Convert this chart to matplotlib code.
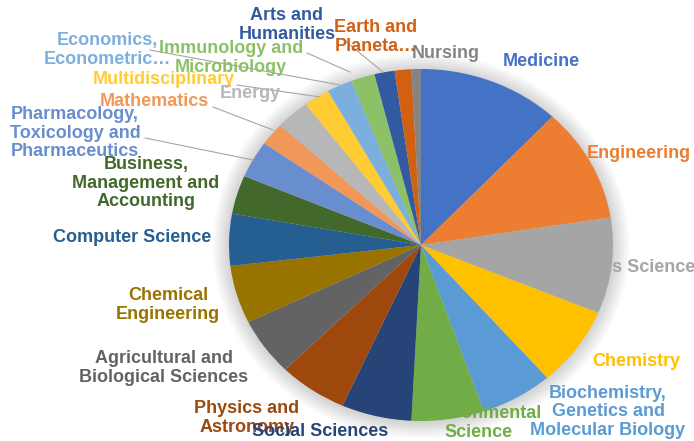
import matplotlib
matplotlib.use("Agg")
import matplotlib.pyplot as plt
from matplotlib.patches import Ellipse

categories = [
    "Medicine", "Engineering", "Materials Science", "Chemistry",
    "Biochemistry,\nGenetics and\nMolecular Biology", "Environmental\nScience",
    "Social Sciences", "Physics and\nAstronomy",
    "Agricultural and\nBiological Sciences", "Chemical\nEngineering",
    "Computer Science", "Business,\nManagement and\nAccounting",
    "Pharmacology,\nToxicology and\nPharmaceutics", "Mathematics", "Energy",
    "Multidisciplinary", "Economics,\nEconometric…", "Immunology and\nMicrobiology",
    "Arts and\nHumanities", "Earth and\nPlaneta…", "Nursing",
]
values = [12.0, 10.5, 8.8, 7.3, 6.1, 6.1, 5.9, 5.8, 5.3, 5.3, 4.75, 3.55,
          3.4, 2.1, 2.85, 2.2, 2.15, 2.0, 1.7, 1.4, 0.8]
colors = ["#4472C4", "#ED7D31", "#A5A5A5", "#FFC000", "#5B9BD5", "#70AD47",
          "#264478", "#9E480E", "#636363", "#997300", "#255E91", "#43682B",
          "#698ED0", "#F1975A", "#B7B7B7", "#FFCD33", "#7CAFDD", "#8CC168",
          "#335AA1", "#D26012", "#848484"]

W, H = 694, 441
fig = plt.figure(figsize=(W / 100, H / 100), dpi=100)
ax = fig.add_axes([0, 0, 1, 1])

# pie geometry in pixels
cx, cy, rx, ry = 421, 245, 192, 176

# soft shadow
for i in range(8):
    e = Ellipse((0, -0.005), 2 * (1 + 0.012 * i), 2 * (1 + 0.012 * i * rx / ry),
                facecolor="black", edgecolor="none", alpha=0.025, zorder=0.2)
    ax.add_patch(e)

wedges, _ = ax.pie(values, colors=colors, startangle=90, counterclock=False,
                   radius=1, center=(0, 0), wedgeprops=dict(linewidth=0))
ax.set_aspect("auto")
ax.set_xlim(-cx / rx, (W - cx) / rx)
ax.set_ylim(-(H - cy) / ry, cy / ry)
ax.axis("off")

# label positions (pixels, centre of text)
label_pos = {
    "Medicine": (541, 62),
    "Engineering": (639, 153),
    "Materials Science": (620, 268),
    "Chemistry": (636, 361),
    "Biochemistry,\nGenetics and\nMolecular Biology": (608, 412),
    "Environmental\nScience": (479, 423),
    "Social Sciences": (320, 431),
    "Physics and\nAstronomy": (247, 418),
    "Agricultural and\nBiological Sciences": (164, 368),
    "Chemical\nEngineering": (168, 305),
    "Computer Science": (132, 238),
    "Business,\nManagement and\nAccounting": (146, 183),
    "Pharmacology,\nToxicology and\nPharmaceutics": (75, 133),
    "Mathematics": (154, 101),
    "Energy": (250, 94),
    "Multidisciplinary": (164, 80),
    "Economics,\nEconometric…": (107, 50),
    "Immunology and\nMicrobiology": (231, 58),
    "Arts and\nHumanities": (287, 25),
    "Earth and\nPlaneta…": (376, 37),
    "Nursing": (446, 54),
}
behind = {"Materials Science", "Environmental\nScience"}

for i, (cat, col) in enumerate(zip(categories, colors)):
    px, py = label_pos[cat]
    z = 0.5 if cat in behind else 3 + (len(categories) - i) * 0.01
    fig.text(px / W, 1 - py / H, cat, color=col, fontsize=13, fontweight="bold",
             family=["Liberation Sans", "DejaVu Sans"], ha="center", va="center",
             multialignment="center", linespacing=1.1, zorder=z)

# leader lines (pixels)
leaders = [
    [(150, 50), (340, 85)],
    [(307, 53), (350, 72)],
    [(237, 85), (320, 97)],
    [(213, 107), (273, 130)],
    [(145, 138), (253, 160)],
    [(344, 40), (383, 72)],
]
for seg in leaders:
    xs = [p[0] / W for p in seg]
    ys = [1 - p[1] / H for p in seg]
    fig.add_artist(plt.Line2D(xs, ys, color="#A6A6A6", lw=0.8, zorder=2))

fig.savefig("out.png", dpi=100)
